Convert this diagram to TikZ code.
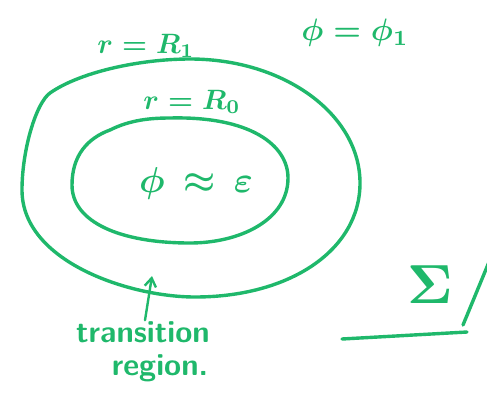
\documentclass[tikz,border=0pt]{standalone}
\usepackage{graphicx}
\usepackage{tikz}
\usepackage{amsmath}
\usepackage{amssymb}
\usetikzlibrary{
  arrows.meta,
  positioning,
  calc
}
\definecolor{mkGreen}{HTML}{1FB86B}
\newcommand{\handmath}[2]{\scalebox{#1}{\boldmath$#2$}}
\tikzset{
  marker/.style={draw=mkGreen, line width=3.4pt, line cap=round, line join=round},
  pointer/.style={marker, line width=2.4pt, -{Straight Barb[length=3mm, width=4mm]}},
  note/.style={text=mkGreen, inner sep=1pt},
  wordnote/.style={note, font=\fontsize{31}{35}\selectfont\sffamily\bfseries}
}

\begin{document}
\begin{tikzpicture}[x=1pt, y=-1pt]
  \useasboundingbox (0,0) rectangle (487,397);
  % outer boundary r = R_1
  \draw[marker] (22,190) .. controls (22,150) and (36,103) .. (50,93)
    .. controls (80,72) and (140,59) .. (190,59)
    .. controls (285,59) and (360,115) .. (360,183)
    .. controls (360,250) and (290,297) .. (195,297)
    .. controls (130,297) and (22,262) .. cycle;
  % inner boundary r = R_0
  \draw[marker] (72,185) .. controls (72,155) and (88,138) .. (110,130)
    .. controls (130,120) and (150,118) .. (170,118)
    .. controls (250,116) and (288,145) .. (288,178)
    .. controls (288,220) and (240,243) .. (190,243)
    .. controls (120,243) and (72,222) .. cycle;
  \coordinate (gap) at (152,276);

  \node[note] (rone) at (146,46) {\handmath{2.8}{r=R_1}};
  \node[note] (rzero) at (192,102) {\handmath{2.8}{r=R_0}};
  \node[note] (phione) at (355,33) {\handmath{3.1}{\phi=\phi_1}};
  \node[note] (inside) at (196,183) {\handmath{3.6}{\phi\,\approx\,\varepsilon}};
  \node[note] (sig) at (430,285) {\handmath{5.5}{\Sigma}};

  \node[wordnote] (trans) at (143,332) {transition};
  \node[wordnote] (region) at (160,368) {region.};
  \draw[pointer] (trans.north) ++(2,0) coordinate (tail) -- (gap);

  % strokes to the lower right
  \coordinate (slashlo) at (463,325);
  \coordinate (slashhi) at (489,262);
  \coordinate (barl) at (342,339);
  \coordinate (barr) at (467,332);
  \draw[marker] (slashlo) -- (slashhi);
  \draw[marker] (barl) -- (barr);
\end{tikzpicture}
\end{document}
